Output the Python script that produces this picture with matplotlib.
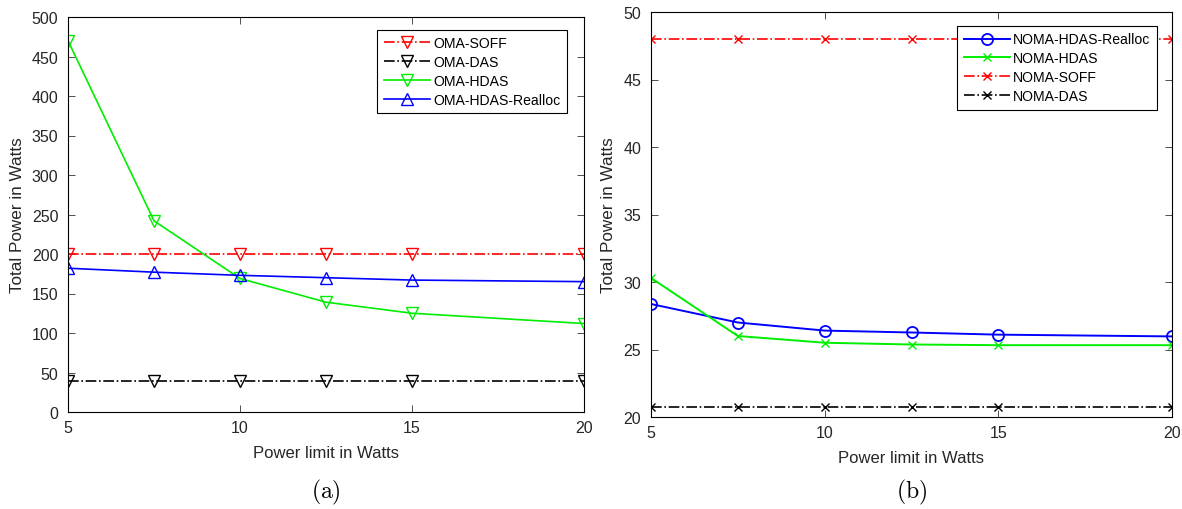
import numpy as np
import matplotlib.pyplot as plt

plt.rcParams['font.family'] = ['Liberation Sans', 'DejaVu Sans']
plt.rcParams['mathtext.fontset'] = 'cm'

# power limit values (x axis)
power_limit = [5, 7.5, 10, 12.5, 15, 20]

# (a) OMA schemes
oma_soff = [200, 200, 200, 200, 200, 200]
oma_das = [39, 39, 39, 39, 39, 39]
oma_hdas = [470, 242, 169, 139, 125, 112]
oma_hdas_realloc = [182, 177, 173, 170, 167, 165]

# (b) NOMA schemes
noma_hdas_realloc = [28.37, 27.0, 26.4, 26.26, 26.1, 25.97]
noma_hdas = [30.3, 26.0, 25.5, 25.37, 25.32, 25.32]
noma_soff = [48.0, 48.0, 48.0, 48.0, 48.0, 48.0]
noma_das = [20.72, 20.72, 20.72, 20.72, 20.72, 20.72]

txt = '#262626'


def style_axes(ax, ylim, yticks):
    ax.set_xlim(5, 20)
    ax.set_xticks([5, 10, 15, 20])
    ax.set_ylim(*ylim)
    ax.set_yticks(yticks)
    ax.tick_params(direction='in', top=True, right=True, labelsize=11.5,
                   color='#333333', labelcolor=txt, length=5, width=0.6)
    ax.tick_params(axis='y', pad=7)
    ax.tick_params(axis='x', pad=6)
    for s in ax.spines.values():
        s.set_linewidth(0.8)
    ax.set_xlabel('Power limit in Watts', fontsize=12, color=txt, labelpad=7)
    ax.set_ylabel('Total Power in Watts', fontsize=12.3, color=txt, labelpad=5)


def add_legend(ax, x, y):
    leg = ax.legend(loc='upper right', bbox_to_anchor=(x, y), borderaxespad=0, fontsize=10.1,
                    fancybox=False, edgecolor='black', framealpha=1, handlelength=3.3,
                    borderpad=0.45, labelspacing=0.35, handletextpad=0.25)
    leg.get_frame().set_linewidth(0.8)


fig = plt.figure(figsize=(11.82, 5.1), dpi=100)
ax1 = fig.add_axes([68 / 1182, 1 - 413 / 510, 516 / 1182, 395 / 510])
ax2 = fig.add_axes([651 / 1182, 1 - 418 / 510, 521 / 1182, 405 / 510])

ms = 8
ax1.plot(power_limit, oma_soff, '-.', color='red', marker='v', mfc='none', ms=ms, lw=1.2, label='OMA-SOFF')
ax1.plot(power_limit, oma_das, '-.', color='black', marker='v', mfc='none', ms=ms, lw=1.2, label='OMA-DAS')
ax1.plot(power_limit, oma_hdas, '-', color='#00ee00', marker='v', mfc='none', ms=ms, lw=1.2, label='OMA-HDAS')
ax1.plot(power_limit, oma_hdas_realloc, '-', color='blue', marker='^', mfc='none', ms=ms, lw=1.2, label='OMA-HDAS-Realloc')
style_axes(ax1, (0, 500), np.arange(0, 501, 50))
add_legend(ax1, 0.967, 0.967)

ax2.plot(power_limit, noma_hdas_realloc, '-', color='blue', marker='o', mfc='none', ms=ms, lw=1.4, mew=1.3, label='NOMA-HDAS-Realloc')
ax2.plot(power_limit, noma_hdas, '-', color='#00ee00', marker='x', ms=6, lw=1.4, label='NOMA-HDAS')
ax2.plot(power_limit, noma_soff, '-.', color='red', marker='x', ms=6, lw=1.2, label='NOMA-SOFF')
ax2.plot(power_limit, noma_das, '-.', color='black', marker='x', ms=6, lw=1.2, label='NOMA-DAS')
style_axes(ax2, (20, 50), np.arange(20, 51, 5))
add_legend(ax2, 0.971, 0.965)

fig.text((68 + 584) / 2 / 1182, 1 - 492 / 510, r'$\mathrm{(a)}$', ha='center', va='center', fontsize=17)
fig.text((651 + 1173) / 2 / 1182, 1 - 492 / 510, r'$\mathrm{(b)}$', ha='center', va='center', fontsize=17)

fig.savefig('out.png', dpi=100)
